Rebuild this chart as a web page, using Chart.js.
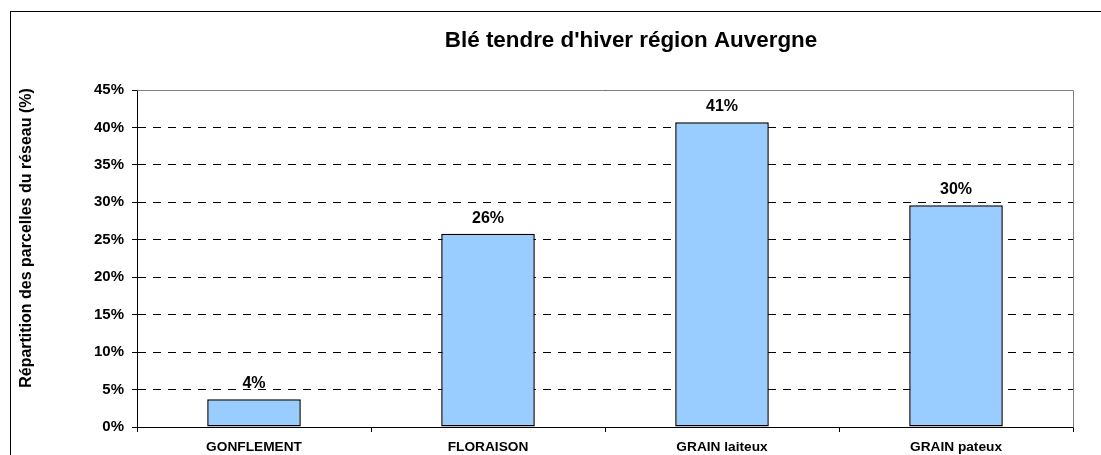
<!DOCTYPE html>
<html lang="fr">
<head>
<meta charset="utf-8">
<title>Blé tendre d'hiver région Auvergne</title>
<script src="https://cdn.jsdelivr.net/npm/chart.js@4.4.1/dist/chart.umd.min.js"></script>
<style>
  html, body {margin: 0; padding: 0; background: #fff;}
  canvas {display: block;}
</style>
</head>
<body>
<canvas id="stadesChart" width="1101" height="455"></canvas>
<script>
// Données.
const stades = ["GONFLEMENT", "FLORAISON", "GRAIN laiteux", "GRAIN pateux"];
const repartition = [3.7, 25.8, 40.7, 29.6];
const yTicks = [0, 5, 10, 15, 20, 25, 30, 35, 40, 45];
const titre = "Blé tendre d'hiver région Auvergne";
const titreAxeY = "Répartition des parcelles du réseau (%)";

const FONT = "'Liberation Sans', Arial, Helvetica, sans-serif";
Chart.defaults.font.family = FONT;
Chart.defaults.color = "#000";

// Bordure grise en haut et à droite de la zone de tracé.
const plotFrame = {
  id: "plotFrame",
  beforeDatasetsDraw(chart) {
    const {ctx, chartArea: a} = chart;
    ctx.save();
    ctx.strokeStyle = "#808080";
    ctx.lineWidth = 1;
    ctx.beginPath();
    ctx.moveTo(Math.round(a.left) + 0.5, Math.round(a.top) + 0.5);
    ctx.lineTo(Math.round(a.right) + 0.5, Math.round(a.top) + 0.5);
    ctx.lineTo(Math.round(a.right) + 0.5, Math.round(a.bottom) + 0.5);
    ctx.stroke();
    ctx.restore();
  }
};

// Étiquettes de valeur au-dessus des barres.
const valueLabels = {
  id: "valueLabels",
  afterDatasetsDraw(chart) {
    const {ctx} = chart;
    ctx.save();
    ctx.font = "bold 16px " + FONT;
    ctx.fillStyle = "#000";
    ctx.textAlign = "center";
    ctx.textBaseline = "alphabetic";
    chart.getDatasetMeta(0).data.forEach((bar, i) => {
      ctx.fillText(Math.round(repartition[i]) + "%", bar.x, bar.y - 11);
    });
    ctx.restore();
  }
};

// Titre du graphique, titre de l'axe Y et cadre extérieur (placés comme dans l'original).
const chartTexts = {
  id: "chartTexts",
  afterDraw(chart) {
    const {ctx} = chart;
    ctx.save();
    ctx.fillStyle = "#000";
    ctx.textAlign = "center";
    ctx.textBaseline = "alphabetic";
    ctx.font = "bold 22.4px " + FONT;
    ctx.fillText(titre, 631, 47);

    ctx.translate(31, 238);
    ctx.rotate(-Math.PI / 2);
    ctx.font = "bold 16px " + FONT;
    ctx.fillText(titreAxeY, 0, 0);
    ctx.restore();

    ctx.save();
    ctx.strokeStyle = "#000";
    ctx.lineWidth = 1;
    ctx.strokeRect(10.5, 11.5, 2000, 2000);
    ctx.restore();
  }
};

new Chart(document.getElementById("stadesChart"), {
  type: "bar",
  data: {
    labels: stades,
    datasets: [{
      data: repartition,
      backgroundColor: "#99CCFF",
      borderColor: "#000",
      borderWidth: 1.5,
      borderSkipped: false,
      categoryPercentage: 1,
      barPercentage: 0.4
    }]
  },
  options: {
    responsive: false,
    animation: false,
    devicePixelRatio: 1,
    layout: {padding: {left: 12, right: 28, top: 90, bottom: 0}},
    plugins: {
      legend: {display: false},
      tooltip: {enabled: false},
      title: {display: false}
    },
    scales: {
      x: {
        afterFit: scale => { scale.height = 28; },
        grid: {display: true, drawOnChartArea: false, drawTicks: true, tickLength: 5, color: "#000", offset: true},
        border: {display: true, color: "#000", width: 1},
        ticks: {color: "#000", font: {size: 13.7, weight: "bold"}, padding: 7, maxRotation: 0}
      },
      y: {
        min: 0,
        max: 45,
        afterFit: scale => { scale.width = 125; },
        afterBuildTicks: scale => { scale.ticks = yTicks.map(v => ({value: v})); },
        grid: {color: "#000", lineWidth: 1, drawTicks: true, tickLength: 5, tickColor: "#000", tickBorderDash: []},
        border: {display: true, color: "#000", width: 1, dash: [8, 7]},
        ticks: {color: "#000", font: {size: 15, weight: "bold"}, padding: 8, callback: v => v + "%"}
      }
    }
  },
  plugins: [plotFrame, valueLabels, chartTexts]
});
</script>
</body>
</html>
